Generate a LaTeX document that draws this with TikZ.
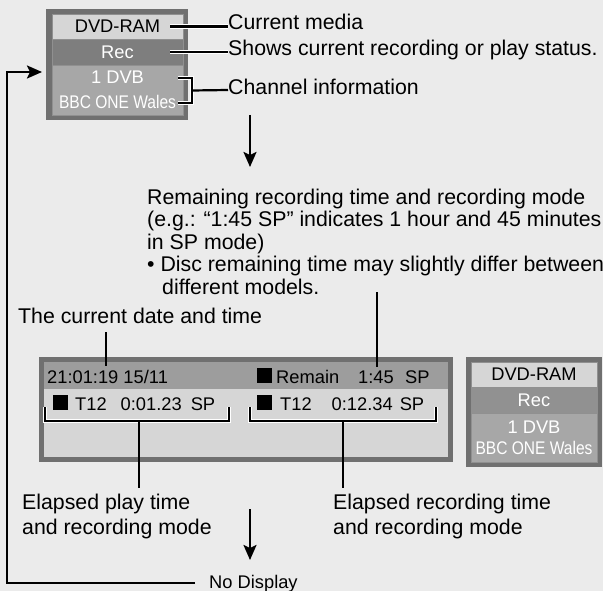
\documentclass[tikz,border=0pt]{standalone}
\usepackage{fontspec}
\setmainfont{Liberation Sans}
\usetikzlibrary{arrows.meta, positioning}

\definecolor{paper}{HTML}{EBEBEB}
\definecolor{bezel}{HTML}{707070}
\definecolor{rowlight}{HTML}{D6D6D6}
\definecolor{rowdark}{HTML}{7E7E7E}
\definecolor{rowmid}{HTML}{A7A7A7}
\definecolor{bartop}{HTML}{9D9D9D}
\definecolor{rowline}{HTML}{909090}

\newcommand{\blk}{\rule{15pt}{15pt}}

\begin{document}
\begin{tikzpicture}[x=1pt, y=-1pt,
    lbl/.style     = {inner sep=0pt, font=\fontsize{21.3}{22.5}\selectfont},
    bezelbox/.style = {rectangle, fill=bezel, inner sep=0pt},
    cell/.style    = {rectangle, inner sep=0pt, draw=rowline, line width=0.6pt,
                      minimum width=131, font=\fontsize{18.3}{25}\selectfont, align=center},
    scr/.style     = {inner sep=0pt, anchor=base west, font=\fontsize{18.3}{20}\selectfont},
    wire/.style    = {line width=2.2pt, black},
    leader/.style  = {wire, preaction={draw=white, line width=4.4pt}},
    arrow/.style   = {wire, -{Stealth[length=15pt, width=13pt, inset=3pt]}},
]
\useasboundingbox[fill=paper] (0,0) rectangle (603,591);

% Small status panel (top)
\node[bezelbox, minimum width=142, minimum height=111] (tframe) at (117,64.5) {};
\node[cell, fill=rowlight, minimum height=25] (tmedia) at (117.5,26.5) {DVD-RAM};
\node[cell, fill=rowdark, text=white, minimum height=26] (trec) at (117.5,52) {Rec};
\node[cell, fill=rowmid, text=white, minimum height=50] (tch) at (117.5,90)
    {1 DVB\\\scalebox{0.85}[1]{BBC ONE Wales}};

% Labels of the small panel
\node[lbl, anchor=base west] (curmedia) at (228,30) {Current media};
\node[lbl, anchor=base west] (shows) at (228,56) {Shows current recording or play status.};
\node[lbl, anchor=base west] (chinfo) at (228,95) {Channel information};

\draw[leader] ([xshift=-13pt]tmedia.east) -- (tmedia.east -| curmedia.west);
\draw[leader] ([xshift=-13pt]trec.east) -- (trec.east -| shows.west);
\draw[leader] (178,78) -| (192,103) -- (178,103);
\draw[wire] (192,90.5) -- (tch.east -| chinfo.west);

% Arrow to the detailed display
\coordinate (down1) at (250,115);
\node[lbl, anchor=north west, align=left] (remark) at (147,188.5)
    {Remaining recording time and recording mode\\
     (e.g.: \textquotedblleft1:45 SP\textquotedblright\ indicates 1 hour and 45 minutes\\
     in SP mode)\\
     \textbullet\ Disc remaining time may slightly differ between\\
     \hspace*{15pt}different models.};
\draw[arrow] (down1) -- ++(0,52);

\node[lbl, anchor=base west] (datelbl) at (18,323) {The current date and time};

% Detailed display
\node[bezelbox, minimum width=414, minimum height=105] (mframe) at (246,409.5) {};
\node[rectangle, inner sep=0pt, fill=bartop, minimum width=404, minimum height=27] (mtop) at (246,375.5) {};
\node[rectangle, inner sep=0pt, fill=rowlight, minimum width=404, minimum height=68] (mbody) at (246,423) {};

\node[scr] (dtime) at (47,383) {21:01:19 15/11};
\node[scr] (remlbl) at (257,383) {\blk\hspace{4pt}Remain};
\node[scr] (remtime) at (358,383) {1:45};
\node[scr] (remmode) at (405,383) {SP};
\node[scr] (playinfo) at (53,410) {\blk\hspace{7pt}T12\hspace{14pt}0:01.23\hspace{9pt}SP};
\node[scr] (recinfo) at (257,410) {\blk\hspace{8pt}T12\hspace{20pt}0:12.34\hspace{7pt}SP};

\coordinate (remtop) at (377,292);
\draw[wire] (remtop) -- ([yshift=3pt]remtop |- remtime.north);
\coordinate (datetop) at (106,332);
\draw[wire] (datetop) -- ([yshift=4pt]datetop |- dtime.north);

% Brackets below the time rows
\draw[leader] (45,407) |- (229,421) -- (229,407);
\draw[leader] (250,407) |- (436,421) -- (436,407);
\coordinate (playbr) at (139,421);
\coordinate (recbr) at (343,421);

% Small panel (right)
\node[bezelbox, minimum width=136, minimum height=110] (rframe) at (534,412) {};
\node[cell, fill=rowlight, minimum width=126, minimum height=25] (rmedia) at (534,374.5) {DVD-RAM};
\node[cell, fill=rowdark!85!white, text=white, minimum width=126, minimum height=26] (rrec) at (534,400) {Rec};
\node[cell, fill=rowmid, text=white, minimum width=126, minimum height=49, font=\fontsize{18.3}{21}\selectfont] (rch) at (534,437.5)
    {1 DVB\\\scalebox{0.85}[1]{BBC ONE Wales}};

% Elapsed time labels
\node[lbl, anchor=north west, align=left, font=\fontsize{21.3}{25}\selectfont] (playlbl) at (22,494)
    {Elapsed play time\\and recording mode};
\node[lbl, anchor=north west, align=left, font=\fontsize{21.3}{25}\selectfont] (reclbl) at (333,494)
    {Elapsed recording time\\and recording mode};
\draw[wire] (playbr) -- ([yshift=6pt]playbr |- playlbl.north);
\draw[wire] (recbr) -- ([yshift=6pt]recbr |- reclbl.north);

% Last step and loop back
\coordinate (down2) at (250,509);
\draw[arrow] (down2) -- ++(0,51);
\node[scr] (nodisp) at (209,588) {No Display};
\coordinate (loopcorner) at (7,72);
\coordinate (looptip) at (42,72);
\draw[arrow] ([xshift=-14pt]nodisp.west) -| (loopcorner) -- (looptip);

\end{tikzpicture}
\end{document}
